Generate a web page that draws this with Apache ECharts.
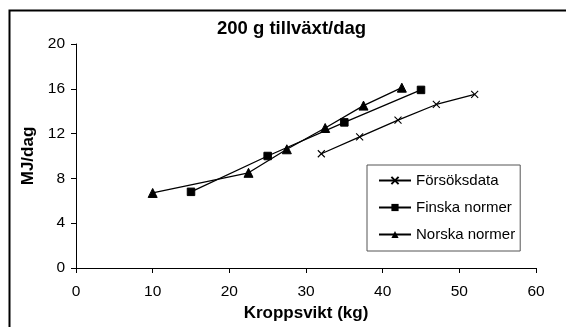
<!DOCTYPE html>
<html>
<head>
<meta charset="utf-8">
<script src="https://cdn.jsdelivr.net/npm/echarts@6/dist/echarts.min.js"></script>
<style>
html,body{margin:0;padding:0;background:#fff;}
#c{width:566px;height:327px;}
</style>
</head>
<body>
<div id="c"></div>
<script>
const titleText = '200 g tillväxt/dag';
const xName = 'Kroppsvikt (kg)';
const yName = 'MJ/dag';
const seriesNames = ['Försöksdata', 'Finska normer', 'Norska normer'];
const forsokX = [32, 37, 42, 47, 52];
const forsokY = [10.2, 11.7, 13.2, 14.6, 15.5];
const finskaX = [15, 25, 35, 45];
const finskaY = [6.8, 10.0, 13.0, 15.9];
const norskaX = [10, 22.5, 27.5, 32.5, 37.5, 42.5];
const norskaY = [6.7, 8.5, 10.6, 12.5, 14.5, 16.1];
const xTicks = [0, 10, 20, 30, 40, 50, 60];
const yTicks = [0, 4, 8, 12, 16, 20];

const FONT = 'Liberation Sans, Arial, sans-serif';
function pairs(xs, ys) { return xs.map((x, i) => [x, ys[i]]); }

const chart = echarts.init(document.getElementById('c'), null, {renderer: 'canvas'});
const lineBase = {
  type: 'line',
  lineStyle: {color: '#000', width: 1.3},
  itemStyle: {color: '#000', borderColor: '#000'},
  animation: false
};
chart.setOption({
  backgroundColor: '#fff',
  animation: false,
  title: {
    text: titleText,
    left: 217, top: 19, padding: 0,
    textStyle: {fontFamily: FONT, fontSize: 18.5, fontWeight: 'bold', color: '#000'}
  },
  graphic: [{
    type: 'rect', left: 7, top: 8, silent: true,
    shape: {width: 620, height: 400},
    style: {fill: 'none', stroke: '#000', lineWidth: 2}
  }],
  grid: {left: 76, right: 30, top: 44, bottom: 59},
  legend: {
    orient: 'vertical',
    left: 367, top: 165,
    padding: [8, 5, 9, 11],
    itemGap: 12,
    itemWidth: 32, itemHeight: 9,
    backgroundColor: '#fff',
    borderColor: '#555', borderWidth: 1,
    data: seriesNames,
    textStyle: {fontFamily: FONT, fontSize: 15, color: '#000'}
  },
  xAxis: {
    type: 'value', min: xTicks[0], max: xTicks[xTicks.length - 1], interval: 10,
    name: xName, nameLocation: 'middle', nameGap: 37,
    nameTextStyle: {fontFamily: FONT, fontSize: 17, fontWeight: 'bold', color: '#000'},
    axisLine: {lineStyle: {color: '#000', width: 1}},
    axisTick: {show: true, inside: false, length: 5, lineStyle: {color: '#000'}},
    axisLabel: {fontFamily: FONT, fontSize: 15.5, color: '#000', margin: 16},
    splitLine: {show: false}
  },
  yAxis: {
    type: 'value', min: yTicks[0], max: yTicks[yTicks.length - 1], interval: 4,
    name: yName, nameLocation: 'middle', nameGap: 34,
    nameTextStyle: {fontFamily: FONT, fontSize: 17, fontWeight: 'bold', color: '#000'},
    axisLine: {show: true, lineStyle: {color: '#000', width: 1}},
    axisTick: {show: true, inside: false, length: 5, lineStyle: {color: '#000'}},
    axisLabel: {fontFamily: FONT, fontSize: 15.5, color: '#000', margin: 11},
    splitLine: {show: false}
  },
  series: [
    Object.assign({}, lineBase, {
      name: seriesNames[0], data: pairs(forsokX, forsokY),
      symbol: 'path://M0,0L10,10M10,0L0,10', symbolSize: 7,
      itemStyle: {color: '#000', borderColor: '#000', borderWidth: 1.1}
    }),
    Object.assign({}, lineBase, {
      name: seriesNames[1], data: pairs(finskaX, finskaY),
      symbol: 'rect', symbolSize: 7.5
    }),
    Object.assign({}, lineBase, {
      name: seriesNames[2], data: pairs(norskaX, norskaY),
      symbol: 'triangle', symbolSize: 9
    })
  ]
});
</script>
</body>
</html>
